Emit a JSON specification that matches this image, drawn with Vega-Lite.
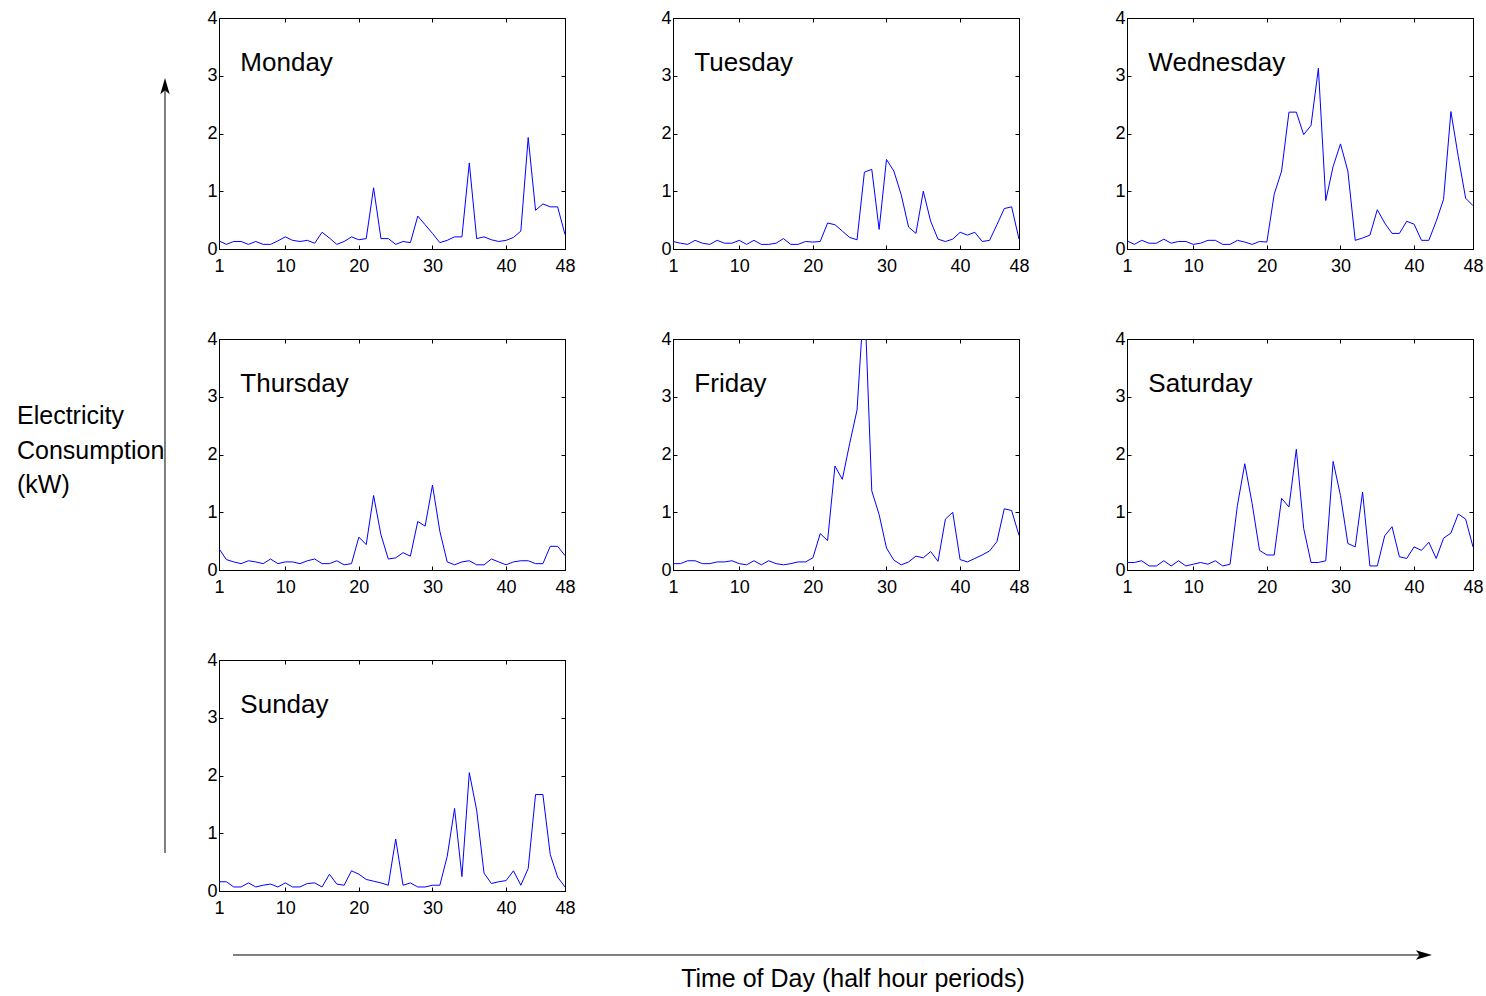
{
"$schema": "https://vega.github.io/schema/vega-lite/v6.json",
"background": "white",
"padding": {"left": 10, "top": 8, "right": 5, "bottom": 0},
"bounds": "flush",
"spacing": 44,
"config": {
  "view": {"stroke": "black", "strokeWidth": 1},
  "axis": {"domainColor": "black", "domainWidth": 1, "tickColor": "black", "tickWidth": 1, "labelColor": "black", "labelFont": "Liberation Sans", "labelFontSize": 18, "grid": false, "labelFlush": false, "labelOverlap": false},
  "header": {"labels": false, "title": null, "labelFontSize": 0, "labelPadding": 0, "labelExpr": "''"}
},
"hconcat": [
  {
    "width": 165, "height": 979,
    "view": {"stroke": null},
    "layer": [
      {"data": {"values": [{"label": "vertical arrow"}]},
       "mark": {"type": "rule", "color": "black", "strokeWidth": 1},
       "encoding": {"x": {"datum": 0.11104, "type": "quantitative", "scale": {"domain": [0.00673, 0.11777], "nice": false, "zero": false}, "axis": null},
                    "y": {"datum": 0.14458, "type": "quantitative", "scale": {"domain": [0, 0.98293], "nice": false, "zero": false}, "axis": null},
                    "y2": {"datum": 0.9125}}},
      {"data": {"values": [{"label": "vertical arrow head"}]},
       "mark": {"type": "point", "shape": "M0,-1L0.55,0.9L0,0.45L-0.55,0.9Z", "filled": true, "color": "black", "size": 289, "opacity": 1},
       "encoding": {"x": {"datum": 0.11104, "type": "quantitative"}, "y": {"datum": 0.91416, "type": "quantitative"}}},
      {"data": {"values": [{"label": "horizontal arrow"}]},
       "mark": {"type": "rule", "color": "black", "strokeWidth": 1},
       "encoding": {"x": {"datum": 0.1568, "type": "quantitative"}, "x2": {"datum": 0.9556},
                    "y": {"datum": 0.04217, "type": "quantitative"}}},
      {"data": {"values": [{"label": "horizontal arrow head"}]},
       "mark": {"type": "point", "shape": "M1,0L-0.9,0.55L-0.45,0L-0.9,-0.55Z", "filled": true, "color": "black", "size": 289, "opacity": 1},
       "encoding": {"x": {"datum": 0.95794, "type": "quantitative"}, "y": {"datum": 0.04217, "type": "quantitative"}}},
      {"data": {"values": [{"label": ["Electricity", "Consumption", "(kW)"]}]},
       "mark": {"type": "text", "font": "Liberation Sans", "fontSize": 25, "align": "left", "baseline": "middle", "lineHeight": 34.5, "color": "black"},
       "encoding": {"x": {"datum": 0.01144, "type": "quantitative"}, "y": {"datum": 0.58333, "type": "quantitative"}, "text": {"field": "label"}}},
      {"data": {"values": [{"label": "Time of Day (half hour periods)"}]},
       "mark": {"type": "text", "font": "Liberation Sans", "fontSize": 25, "align": "center", "baseline": "middle", "color": "black"},
       "encoding": {"x": {"datum": 0.57402, "type": "quantitative"}, "y": {"datum": 0.01807, "type": "quantitative"}, "text": {"field": "label"}}}
    ]
  },
  {
    "data": {"values": [
{"day":"Monday","t":1,"kw":0.14},{"day":"Monday","t":2,"kw":0.08},{"day":"Monday","t":3,"kw":0.13},{"day":"Monday","t":4,"kw":0.13},{"day":"Monday","t":5,"kw":0.08},{"day":"Monday","t":6,"kw":0.13},{"day":"Monday","t":7,"kw":0.08},{"day":"Monday","t":8,"kw":0.08},{"day":"Monday","t":9,"kw":0.14},{"day":"Monday","t":10,"kw":0.21},{"day":"Monday","t":11,"kw":0.15},{"day":"Monday","t":12,"kw":0.13},{"day":"Monday","t":13,"kw":0.15},{"day":"Monday","t":14,"kw":0.1},{"day":"Monday","t":15,"kw":0.29},{"day":"Monday","t":16,"kw":0.19},{"day":"Monday","t":17,"kw":0.08},{"day":"Monday","t":18,"kw":0.13},{"day":"Monday","t":19,"kw":0.21},{"day":"Monday","t":20,"kw":0.16},{"day":"Monday","t":21,"kw":0.18},{"day":"Monday","t":22,"kw":1.06},{"day":"Monday","t":23,"kw":0.18},{"day":"Monday","t":24,"kw":0.18},{"day":"Monday","t":25,"kw":0.08},{"day":"Monday","t":26,"kw":0.13},{"day":"Monday","t":27,"kw":0.11},{"day":"Monday","t":28,"kw":0.57},{"day":"Monday","t":29,"kw":0.42},{"day":"Monday","t":30,"kw":0.27},{"day":"Monday","t":31,"kw":0.11},{"day":"Monday","t":32,"kw":0.15},{"day":"Monday","t":33,"kw":0.21},{"day":"Monday","t":34,"kw":0.21},{"day":"Monday","t":35,"kw":1.49},{"day":"Monday","t":36,"kw":0.18},{"day":"Monday","t":37,"kw":0.21},{"day":"Monday","t":38,"kw":0.16},{"day":"Monday","t":39,"kw":0.13},{"day":"Monday","t":40,"kw":0.15},{"day":"Monday","t":41,"kw":0.2},{"day":"Monday","t":42,"kw":0.31},{"day":"Monday","t":43,"kw":1.93},{"day":"Monday","t":44,"kw":0.67},{"day":"Monday","t":45,"kw":0.78},{"day":"Monday","t":46,"kw":0.73},{"day":"Monday","t":47,"kw":0.73},{"day":"Monday","t":48,"kw":0.25},
{"day":"Tuesday","t":1,"kw":0.13},{"day":"Tuesday","t":2,"kw":0.1},{"day":"Tuesday","t":3,"kw":0.08},{"day":"Tuesday","t":4,"kw":0.15},{"day":"Tuesday","t":5,"kw":0.1},{"day":"Tuesday","t":6,"kw":0.08},{"day":"Tuesday","t":7,"kw":0.15},{"day":"Tuesday","t":8,"kw":0.1},{"day":"Tuesday","t":9,"kw":0.1},{"day":"Tuesday","t":10,"kw":0.15},{"day":"Tuesday","t":11,"kw":0.08},{"day":"Tuesday","t":12,"kw":0.15},{"day":"Tuesday","t":13,"kw":0.08},{"day":"Tuesday","t":14,"kw":0.08},{"day":"Tuesday","t":15,"kw":0.1},{"day":"Tuesday","t":16,"kw":0.18},{"day":"Tuesday","t":17,"kw":0.08},{"day":"Tuesday","t":18,"kw":0.08},{"day":"Tuesday","t":19,"kw":0.13},{"day":"Tuesday","t":20,"kw":0.12},{"day":"Tuesday","t":21,"kw":0.13},{"day":"Tuesday","t":22,"kw":0.45},{"day":"Tuesday","t":23,"kw":0.42},{"day":"Tuesday","t":24,"kw":0.31},{"day":"Tuesday","t":25,"kw":0.2},{"day":"Tuesday","t":26,"kw":0.16},{"day":"Tuesday","t":27,"kw":1.33},{"day":"Tuesday","t":28,"kw":1.38},{"day":"Tuesday","t":29,"kw":0.34},{"day":"Tuesday","t":30,"kw":1.55},{"day":"Tuesday","t":31,"kw":1.35},{"day":"Tuesday","t":32,"kw":0.94},{"day":"Tuesday","t":33,"kw":0.38},{"day":"Tuesday","t":34,"kw":0.27},{"day":"Tuesday","t":35,"kw":1.0},{"day":"Tuesday","t":36,"kw":0.48},{"day":"Tuesday","t":37,"kw":0.17},{"day":"Tuesday","t":38,"kw":0.13},{"day":"Tuesday","t":39,"kw":0.17},{"day":"Tuesday","t":40,"kw":0.29},{"day":"Tuesday","t":41,"kw":0.24},{"day":"Tuesday","t":42,"kw":0.29},{"day":"Tuesday","t":43,"kw":0.13},{"day":"Tuesday","t":44,"kw":0.15},{"day":"Tuesday","t":45,"kw":0.42},{"day":"Tuesday","t":46,"kw":0.7},{"day":"Tuesday","t":47,"kw":0.73},{"day":"Tuesday","t":48,"kw":0.17},
{"day":"Wednesday","t":1,"kw":0.14},{"day":"Wednesday","t":2,"kw":0.08},{"day":"Wednesday","t":3,"kw":0.15},{"day":"Wednesday","t":4,"kw":0.1},{"day":"Wednesday","t":5,"kw":0.1},{"day":"Wednesday","t":6,"kw":0.17},{"day":"Wednesday","t":7,"kw":0.1},{"day":"Wednesday","t":8,"kw":0.13},{"day":"Wednesday","t":9,"kw":0.13},{"day":"Wednesday","t":10,"kw":0.08},{"day":"Wednesday","t":11,"kw":0.1},{"day":"Wednesday","t":12,"kw":0.15},{"day":"Wednesday","t":13,"kw":0.15},{"day":"Wednesday","t":14,"kw":0.08},{"day":"Wednesday","t":15,"kw":0.08},{"day":"Wednesday","t":16,"kw":0.15},{"day":"Wednesday","t":17,"kw":0.12},{"day":"Wednesday","t":18,"kw":0.08},{"day":"Wednesday","t":19,"kw":0.13},{"day":"Wednesday","t":20,"kw":0.12},{"day":"Wednesday","t":21,"kw":0.95},{"day":"Wednesday","t":22,"kw":1.35},{"day":"Wednesday","t":23,"kw":2.37},{"day":"Wednesday","t":24,"kw":2.37},{"day":"Wednesday","t":25,"kw":1.98},{"day":"Wednesday","t":26,"kw":2.14},{"day":"Wednesday","t":27,"kw":3.13},{"day":"Wednesday","t":28,"kw":0.84},{"day":"Wednesday","t":29,"kw":1.43},{"day":"Wednesday","t":30,"kw":1.82},{"day":"Wednesday","t":31,"kw":1.35},{"day":"Wednesday","t":32,"kw":0.15},{"day":"Wednesday","t":33,"kw":0.19},{"day":"Wednesday","t":34,"kw":0.24},{"day":"Wednesday","t":35,"kw":0.68},{"day":"Wednesday","t":36,"kw":0.45},{"day":"Wednesday","t":37,"kw":0.27},{"day":"Wednesday","t":38,"kw":0.27},{"day":"Wednesday","t":39,"kw":0.48},{"day":"Wednesday","t":40,"kw":0.43},{"day":"Wednesday","t":41,"kw":0.15},{"day":"Wednesday","t":42,"kw":0.15},{"day":"Wednesday","t":43,"kw":0.48},{"day":"Wednesday","t":44,"kw":0.86},{"day":"Wednesday","t":45,"kw":2.38},{"day":"Wednesday","t":46,"kw":1.6},{"day":"Wednesday","t":47,"kw":0.88},{"day":"Wednesday","t":48,"kw":0.75},
{"day":"Thursday","t":1,"kw":0.37},{"day":"Thursday","t":2,"kw":0.18},{"day":"Thursday","t":3,"kw":0.14},{"day":"Thursday","t":4,"kw":0.11},{"day":"Thursday","t":5,"kw":0.16},{"day":"Thursday","t":6,"kw":0.14},{"day":"Thursday","t":7,"kw":0.11},{"day":"Thursday","t":8,"kw":0.19},{"day":"Thursday","t":9,"kw":0.11},{"day":"Thursday","t":10,"kw":0.14},{"day":"Thursday","t":11,"kw":0.14},{"day":"Thursday","t":12,"kw":0.11},{"day":"Thursday","t":13,"kw":0.16},{"day":"Thursday","t":14,"kw":0.19},{"day":"Thursday","t":15,"kw":0.11},{"day":"Thursday","t":16,"kw":0.11},{"day":"Thursday","t":17,"kw":0.16},{"day":"Thursday","t":18,"kw":0.09},{"day":"Thursday","t":19,"kw":0.11},{"day":"Thursday","t":20,"kw":0.57},{"day":"Thursday","t":21,"kw":0.44},{"day":"Thursday","t":22,"kw":1.29},{"day":"Thursday","t":23,"kw":0.61},{"day":"Thursday","t":24,"kw":0.19},{"day":"Thursday","t":25,"kw":0.21},{"day":"Thursday","t":26,"kw":0.3},{"day":"Thursday","t":27,"kw":0.24},{"day":"Thursday","t":28,"kw":0.84},{"day":"Thursday","t":29,"kw":0.76},{"day":"Thursday","t":30,"kw":1.47},{"day":"Thursday","t":31,"kw":0.67},{"day":"Thursday","t":32,"kw":0.14},{"day":"Thursday","t":33,"kw":0.09},{"day":"Thursday","t":34,"kw":0.14},{"day":"Thursday","t":35,"kw":0.16},{"day":"Thursday","t":36,"kw":0.09},{"day":"Thursday","t":37,"kw":0.09},{"day":"Thursday","t":38,"kw":0.19},{"day":"Thursday","t":39,"kw":0.14},{"day":"Thursday","t":40,"kw":0.09},{"day":"Thursday","t":41,"kw":0.14},{"day":"Thursday","t":42,"kw":0.16},{"day":"Thursday","t":43,"kw":0.16},{"day":"Thursday","t":44,"kw":0.11},{"day":"Thursday","t":45,"kw":0.11},{"day":"Thursday","t":46,"kw":0.41},{"day":"Thursday","t":47,"kw":0.41},{"day":"Thursday","t":48,"kw":0.25},
{"day":"Friday","t":1,"kw":0.11},{"day":"Friday","t":2,"kw":0.11},{"day":"Friday","t":3,"kw":0.16},{"day":"Friday","t":4,"kw":0.16},{"day":"Friday","t":5,"kw":0.11},{"day":"Friday","t":6,"kw":0.11},{"day":"Friday","t":7,"kw":0.14},{"day":"Friday","t":8,"kw":0.14},{"day":"Friday","t":9,"kw":0.16},{"day":"Friday","t":10,"kw":0.11},{"day":"Friday","t":11,"kw":0.09},{"day":"Friday","t":12,"kw":0.16},{"day":"Friday","t":13,"kw":0.09},{"day":"Friday","t":14,"kw":0.16},{"day":"Friday","t":15,"kw":0.11},{"day":"Friday","t":16,"kw":0.09},{"day":"Friday","t":17,"kw":0.11},{"day":"Friday","t":18,"kw":0.14},{"day":"Friday","t":19,"kw":0.14},{"day":"Friday","t":20,"kw":0.21},{"day":"Friday","t":21,"kw":0.63},{"day":"Friday","t":22,"kw":0.51},{"day":"Friday","t":23,"kw":1.8},{"day":"Friday","t":24,"kw":1.57},{"day":"Friday","t":25,"kw":2.19},{"day":"Friday","t":26,"kw":2.77},{"day":"Friday","t":27,"kw":4.8},{"day":"Friday","t":28,"kw":1.37},{"day":"Friday","t":29,"kw":0.96},{"day":"Friday","t":30,"kw":0.38},{"day":"Friday","t":31,"kw":0.17},{"day":"Friday","t":32,"kw":0.09},{"day":"Friday","t":33,"kw":0.14},{"day":"Friday","t":34,"kw":0.24},{"day":"Friday","t":35,"kw":0.21},{"day":"Friday","t":36,"kw":0.32},{"day":"Friday","t":37,"kw":0.15},{"day":"Friday","t":38,"kw":0.88},{"day":"Friday","t":39,"kw":1.0},{"day":"Friday","t":40,"kw":0.18},{"day":"Friday","t":41,"kw":0.14},{"day":"Friday","t":42,"kw":0.2},{"day":"Friday","t":43,"kw":0.26},{"day":"Friday","t":44,"kw":0.33},{"day":"Friday","t":45,"kw":0.49},{"day":"Friday","t":46,"kw":1.06},{"day":"Friday","t":47,"kw":1.03},{"day":"Friday","t":48,"kw":0.6},
{"day":"Saturday","t":1,"kw":0.13},{"day":"Saturday","t":2,"kw":0.13},{"day":"Saturday","t":3,"kw":0.16},{"day":"Saturday","t":4,"kw":0.07},{"day":"Saturday","t":5,"kw":0.07},{"day":"Saturday","t":6,"kw":0.16},{"day":"Saturday","t":7,"kw":0.07},{"day":"Saturday","t":8,"kw":0.16},{"day":"Saturday","t":9,"kw":0.07},{"day":"Saturday","t":10,"kw":0.1},{"day":"Saturday","t":11,"kw":0.13},{"day":"Saturday","t":12,"kw":0.1},{"day":"Saturday","t":13,"kw":0.16},{"day":"Saturday","t":14,"kw":0.07},{"day":"Saturday","t":15,"kw":0.1},{"day":"Saturday","t":16,"kw":1.12},{"day":"Saturday","t":17,"kw":1.84},{"day":"Saturday","t":18,"kw":1.15},{"day":"Saturday","t":19,"kw":0.34},{"day":"Saturday","t":20,"kw":0.26},{"day":"Saturday","t":21,"kw":0.26},{"day":"Saturday","t":22,"kw":1.24},{"day":"Saturday","t":23,"kw":1.09},{"day":"Saturday","t":24,"kw":2.09},{"day":"Saturday","t":25,"kw":0.72},{"day":"Saturday","t":26,"kw":0.13},{"day":"Saturday","t":27,"kw":0.13},{"day":"Saturday","t":28,"kw":0.16},{"day":"Saturday","t":29,"kw":1.88},{"day":"Saturday","t":30,"kw":1.29},{"day":"Saturday","t":31,"kw":0.46},{"day":"Saturday","t":32,"kw":0.4},{"day":"Saturday","t":33,"kw":1.35},{"day":"Saturday","t":34,"kw":0.07},{"day":"Saturday","t":35,"kw":0.07},{"day":"Saturday","t":36,"kw":0.59},{"day":"Saturday","t":37,"kw":0.75},{"day":"Saturday","t":38,"kw":0.23},{"day":"Saturday","t":39,"kw":0.2},{"day":"Saturday","t":40,"kw":0.4},{"day":"Saturday","t":41,"kw":0.34},{"day":"Saturday","t":42,"kw":0.48},{"day":"Saturday","t":43,"kw":0.2},{"day":"Saturday","t":44,"kw":0.55},{"day":"Saturday","t":45,"kw":0.64},{"day":"Saturday","t":46,"kw":0.97},{"day":"Saturday","t":47,"kw":0.88},{"day":"Saturday","t":48,"kw":0.4},
{"day":"Sunday","t":1,"kw":0.16},{"day":"Sunday","t":2,"kw":0.16},{"day":"Sunday","t":3,"kw":0.07},{"day":"Sunday","t":4,"kw":0.07},{"day":"Sunday","t":5,"kw":0.14},{"day":"Sunday","t":6,"kw":0.07},{"day":"Sunday","t":7,"kw":0.1},{"day":"Sunday","t":8,"kw":0.12},{"day":"Sunday","t":9,"kw":0.07},{"day":"Sunday","t":10,"kw":0.14},{"day":"Sunday","t":11,"kw":0.07},{"day":"Sunday","t":12,"kw":0.07},{"day":"Sunday","t":13,"kw":0.13},{"day":"Sunday","t":14,"kw":0.14},{"day":"Sunday","t":15,"kw":0.07},{"day":"Sunday","t":16,"kw":0.29},{"day":"Sunday","t":17,"kw":0.12},{"day":"Sunday","t":18,"kw":0.1},{"day":"Sunday","t":19,"kw":0.35},{"day":"Sunday","t":20,"kw":0.29},{"day":"Sunday","t":21,"kw":0.2},{"day":"Sunday","t":22,"kw":0.17},{"day":"Sunday","t":23,"kw":0.14},{"day":"Sunday","t":24,"kw":0.1},{"day":"Sunday","t":25,"kw":0.9},{"day":"Sunday","t":26,"kw":0.1},{"day":"Sunday","t":27,"kw":0.14},{"day":"Sunday","t":28,"kw":0.07},{"day":"Sunday","t":29,"kw":0.07},{"day":"Sunday","t":30,"kw":0.1},{"day":"Sunday","t":31,"kw":0.1},{"day":"Sunday","t":32,"kw":0.6},{"day":"Sunday","t":33,"kw":1.43},{"day":"Sunday","t":34,"kw":0.25},{"day":"Sunday","t":35,"kw":2.05},{"day":"Sunday","t":36,"kw":1.4},{"day":"Sunday","t":37,"kw":0.31},{"day":"Sunday","t":38,"kw":0.13},{"day":"Sunday","t":39,"kw":0.16},{"day":"Sunday","t":40,"kw":0.18},{"day":"Sunday","t":41,"kw":0.35},{"day":"Sunday","t":42,"kw":0.1},{"day":"Sunday","t":43,"kw":0.39},{"day":"Sunday","t":44,"kw":1.67},{"day":"Sunday","t":45,"kw":1.67},{"day":"Sunday","t":46,"kw":0.63},{"day":"Sunday","t":47,"kw":0.24},{"day":"Sunday","t":48,"kw":0.07}
    ]},
    "facet": {"field": "day", "type": "nominal", "title": null, "sort": ["Monday", "Tuesday", "Wednesday", "Thursday", "Friday", "Saturday", "Sunday"], "header": {"title": null, "labels": false, "labelFontSize": 0, "labelPadding": 0, "labelExpr": "''"}},
    "columns": 3,
    "spacing": {"row": 90, "column": 108},
    "bounds": "flush",
    "spec": {
      "width": 346, "height": 231,
      "layer": [
        {"mark": {"type": "line", "color": "#0000ff", "strokeWidth": 1, "clip": true},
         "encoding": {
           "x": {"field": "t", "type": "quantitative", "scale": {"domain": [1, 48], "nice": false, "zero": false},
                 "axis": {"orient": "bottom", "values": [1, 10, 20, 30, 40, 48], "tickSize": -4, "labelPadding": 12, "title": null}},
           "y": {"field": "kw", "type": "quantitative", "scale": {"domain": [0, 4], "nice": false},
                 "axis": {"orient": "left", "values": [0, 1, 2, 3, 4], "tickSize": -4, "labelPadding": 6, "title": null}}
         }},
        {"mark": {"type": "point", "opacity": 0, "clip": true},
         "encoding": {
           "x": {"field": "t", "type": "quantitative", "axis": {"orient": "top", "values": [1, 10, 20, 30, 40, 48], "tickSize": -4, "labels": false, "title": null}},
           "y": {"field": "kw", "type": "quantitative", "axis": {"orient": "right", "values": [0, 1, 2, 3, 4], "tickSize": -4, "labels": false, "title": null}}
         }},
        {"transform": [{"filter": "datum.t == 1"}],
         "mark": {"type": "text", "font": "Liberation Sans", "fontSize": 26, "align": "left", "baseline": "alphabetic", "color": "black"},
         "encoding": {
           "x": {"datum": 3.9, "type": "quantitative", "axis": null},
           "y": {"datum": 3.08, "type": "quantitative", "axis": null},
           "text": {"field": "day"}
         }}
      ],
      "resolve": {"axis": {"x": "independent", "y": "independent"}}
    },
    "resolve": {"axis": {"x": "independent", "y": "independent"}}
  }
]
}
